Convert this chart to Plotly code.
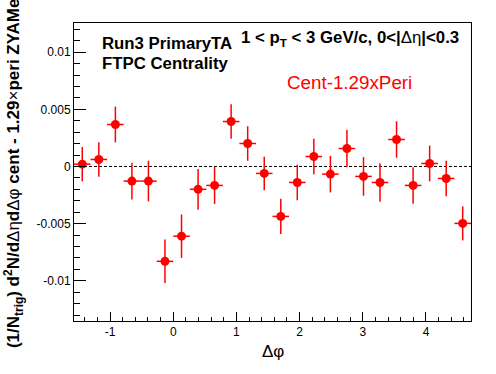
import plotly.graph_objects as go

# Bin centres in delta-phi (24 bins from -pi/2 to 3pi/2)
dphi = [-1.440, -1.178, -0.916, -0.654, -0.393, -0.131, 0.131, 0.393,
        0.654, 0.916, 1.178, 1.440, 1.702, 1.963, 2.225, 2.487,
        2.749, 3.011, 3.272, 3.534, 3.796, 4.058, 4.320, 4.581]
bin_half_width = 0.1309

# Cent - 1.29 x Peri, ZYAM subtracted
yield_vals = [0.00020, 0.00061, 0.00367, -0.00128, -0.00128, -0.00830, -0.00610, -0.00200,
              -0.00166, 0.00393, 0.00201, -0.00061, -0.00437, -0.00140, 0.00087, -0.00067,
              0.00157, -0.00087, -0.00140, 0.00236, -0.00166, 0.00026, -0.00105, -0.00498]
yield_errs = [0.00150, 0.00151, 0.00157, 0.00160, 0.00178, 0.00190, 0.00190, 0.00178,
              0.00162, 0.00151, 0.00151, 0.00147, 0.00154, 0.00156, 0.00156, 0.00160,
              0.00163, 0.00169, 0.00169, 0.00160, 0.00160, 0.00156, 0.00156, 0.00149]

x_tickvals = [-1, 0, 1, 2, 3, 4]
x_ticktext = ["-1", "0", "1", "2", "3", "4"]
y_tickvals = [-0.01, -0.005, 0, 0.005, 0.01]
y_ticktext = ["-0.01", "-0.005", "0", "0.005", "0.01"]

FONT = "Liberation Sans, Arial, Helvetica, sans-serif"
RED = "#ff0000"

fig = go.Figure()
fig.add_trace(go.Scatter(
    x=dphi, y=yield_vals, mode="markers",
    marker=dict(color=RED, size=9, symbol="circle"),
    error_y=dict(type="data", array=yield_errs, color=RED, thickness=1.5, width=0),
    error_x=dict(type="constant", value=bin_half_width, color=RED, thickness=1.5, width=0),
    showlegend=False, cliponaxis=True,
))

fig.add_shape(type="line", xref="paper", yref="y", x0=0, x1=1, y0=0, y1=0,
              line=dict(color="black", width=1, dash="3px,2px"), layer="below")

axis_common = dict(showline=True, mirror=True, linecolor="black", linewidth=1,
                   ticks="inside", tickcolor="black", showgrid=False, zeroline=False,
                   tickfont=dict(family=FONT, size=12, color="black"))

fig.update_xaxes(range=[-1.5708, 4.7124], tickmode="array", tickvals=x_tickvals,
                 ticktext=x_ticktext, ticklen=9,
                 minor=dict(dtick=0.2, tick0=0, ticklen=4.5, ticks="inside",
                            tickcolor="black", showgrid=False),
                 **axis_common)
fig.update_yaxes(range=[-0.01352, 0.01255], tickmode="array", tickvals=y_tickvals,
                 ticktext=y_ticktext, ticklen=12,
                 minor=dict(dtick=0.001, tick0=0, ticklen=6, ticks="inside",
                            tickcolor="black", showgrid=False),
                 **axis_common)

annots = [
    dict(text="<b>Run3 PrimaryTA</b>", x=0.0655, y=0.9305, xanchor="left", yanchor="middle",
         font=dict(family=FONT, size=16.8, color="black")),
    dict(text="<b>FTPC Centrality</b>", x=0.0655, y=0.8648, xanchor="left", yanchor="middle",
         font=dict(family=FONT, size=16.8, color="black")),
    dict(text="<b>1 < p<sub>T</sub> < 3 GeV/c, 0<|</b>Δη<b>|<0.3</b>", x=0.4156, y=0.948,
         xanchor="left", yanchor="middle", font=dict(family=FONT, size=16.8, color="black")),
    dict(text="Cent-1.29xPeri", x=0.5315, y=0.7987, xanchor="left", yanchor="middle",
         font=dict(family=FONT, size=18.8, color=RED)),
    dict(text="Δφ", x=0.5, y=-0.104, xanchor="center", yanchor="middle",
         font=dict(family=FONT, size=17, color="black")),
    dict(text="<b>(1/N<sub>trig</sub>) d<sup>2</sup>N/d</b>Δη<b>d</b>Δφ<b> cent - 1.29</b>×<b>peri ZYAMed</b>",
         x=-0.151, y=-0.0973, xanchor="center", yanchor="bottom", textangle=-90,
         font=dict(family=FONT, size=17, color="black")),
]
for a in annots:
    fig.add_annotation(xref="paper", yref="paper", showarrow=False, **a)

fig.update_layout(
    width=496, height=374,
    margin=dict(l=74, r=25, t=23, b=53, autoexpand=False),
    paper_bgcolor="white", plot_bgcolor="white",
    font=dict(family=FONT, color="black"),
)

fig.write_html("out.html", config={"displayModeBar": False},
               post_script="document.body.style.margin='0px';document.body.style.padding='0px';")
